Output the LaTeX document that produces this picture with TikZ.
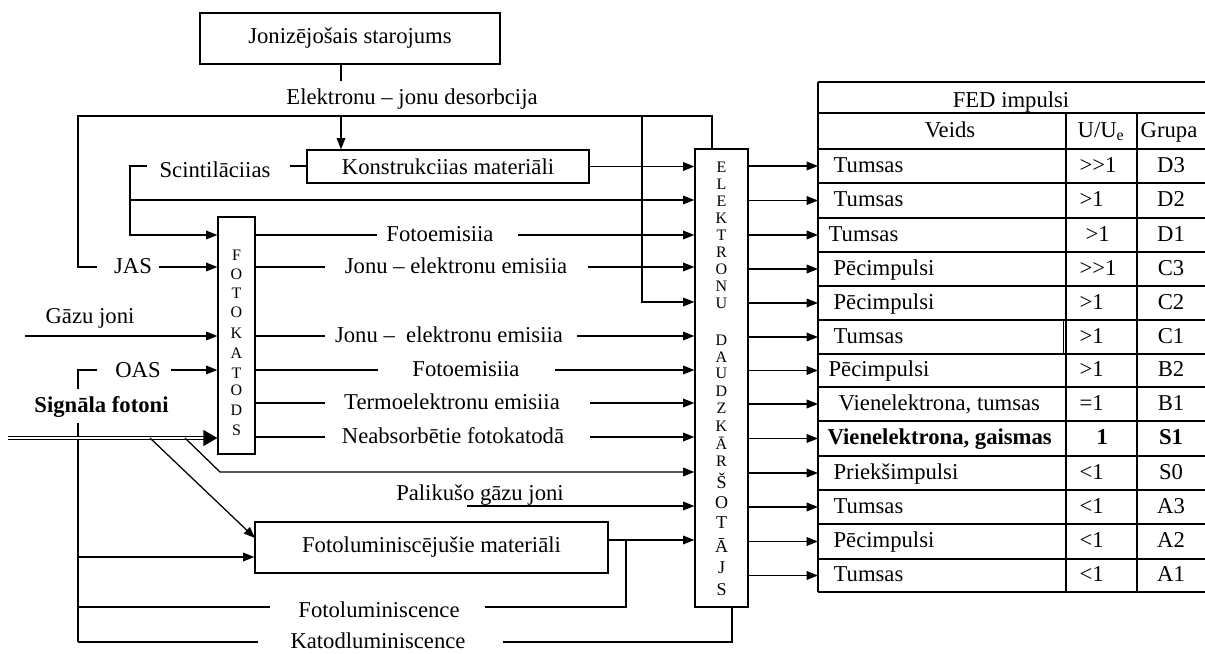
\documentclass[tikz,border=0pt]{standalone}
\usepackage{fontspec}
\setmainfont{Liberation Serif}
\usetikzlibrary{arrows.meta}
\newcommand\mainfs{\fontsize{17}{20}\selectfont}
\newcommand\smallfs{\fontsize{12}{14}\selectfont}
\newcommand\midfs{\fontsize{13.5}{15}\selectfont}
\newcommand\fedrow[7]{%
  \coordinate (r#1) at (818,#2);
  \draw[arr] (r#1 -| ed.east) -- (r#1);
  \node[lbl, anchor=west] (v#1) at (#3,#2) {#4};
  \node[lbl, anchor=west] (u#1) at (#5,#2) {#6};
  \node[lbl] (g#1) at (1171,#2) {#7};
}
\begin{document}
\begin{tikzpicture}[x=0.75pt,y=-0.75pt,
  line width=0.95pt,
  font=\mainfs,
  box/.style={draw, inner sep=0pt},
  lbl/.style={inner sep=0pt, text height=12pt, text depth=3pt},
  arr/.style={-{Triangle[length=8.5pt,width=6.5pt]}},
  ltr/.style={inner sep=0pt, anchor=base, font=\smallfs},
  ltrb/.style={inner sep=0pt, anchor=base, font=\midfs},
]
\useasboundingbox (0,0) rectangle (1205,653);
\fill[white] (0,0) rectangle (1205,653);

% boxes
\node[box, minimum width=225pt, minimum height=38.25pt] (ion) at (350,38.5) {Jonizējošais starojums};
\node[box, minimum width=211.5pt, minimum height=24.75pt] (kon) at (448,166.5) {Konstrukciias materiāli};
\node[box, minimum width=27.75pt, minimum height=177.75pt] (fk) at (236.5,335.5) {};
\node[box, minimum width=39.75pt, minimum height=343.5pt] (ed) at (721.5,378) {};
\node[box, minimum width=264.75pt, minimum height=38.25pt] (fl) at (431.5,547.5) {Fotoluminiscējušie materiāli};

% letters FOTOKATODS
\foreach \l/\y [count=\i] in {F/260,O/279,T/298,O/317,K/338,A/358,T/378,O/395,D/415,S/435}
  \node[ltr] (fkl\i) at (236.5,\y) {\l};
% letters ELEKTRONU DAUDZKARSOTAJS
\foreach \l/\y [count=\i] in {E/172,L/189,E/206,K/223,T/240,R/257,O/274,N/291,U/308,D/345,A/362,U/378,D/396,Z/413,K/431,Ā/449,R/466}
  \node[ltr] (edl\i) at (721.5,\y) {\l};
\foreach \l/\y [count=\i] in {Š/488,O/508,T/528,Ā/552,J/573,S/595}
  \node[ltrb] (edm\i) at (721.5,\y) {\l};

% top part
\coordinate (d1) at (341,81);
\draw (ion.south -| d1) -- (d1);
\node[lbl] (des) at (412,98.5) {Elektronu – jonu desorbcija};
\coordinate (bl) at (78,116);
\coordinate (br) at (712,116);
\coordinate (bm) at (642,116);
\coordinate (jasL) at (97,267);
\draw (jasL) -| (bl) -- (br) -- (br |- ed.north);
\draw[arr] (bl -| d1) -- (kon.north -| d1);
\draw[arr] (bm) |- (ed.west |- 0,302);
\draw[arr] (kon.east) -- (kon.east -| ed.west);

% scintillations
\node[lbl] (sci) at (215,171) {Scintilāciias};
\coordinate (sc1) at (147,166);
\coordinate (sc2) at (290,166);
\coordinate (sc3) at (130,235);
\coordinate (scv) at (130,200);
\draw (kon.west |- sc2) -- (sc2);
\draw[arr] (sc1) -| (sc3) -- (sc3 -| fk.west);
\draw[arr] (scv) -- (scv -| ed.west);

% JAS
\node[lbl] (jas) at (133,267) {JAS};
\draw[arr] ([xshift=4.5pt]jas.east) -- (jas.east -| fk.west);

% gas ions
\node[lbl] (gaz) at (90,317) {Gāzu joni};
\coordinate (gz) at (25,336);
\draw[arr] (gz) -- (gz -| fk.west);

% OAS
\node[lbl] (oas) at (138,371) {OAS};
\coordinate (oasL) at (97,370);
\coordinate (vb) at (78,642);
\draw (oasL) -| (vb);
\draw[arr] ([xshift=7pt]oas.east |- oasL) -- (oasL -| fk.west);

% signal photons
\node[lbl, fill=white, inner xsep=1pt, inner ysep=5pt, font=\mainfs\bfseries] (sig) at (101.5,406) {Signāla fotoni};
\coordinate (dl0) at (8,438);
\coordinate (dl1) at (204,438);
\draw[double, double distance=1.7pt, line width=0.75pt] (dl0) -- (dl1);
\draw[-{Triangle[length=10.5pt,width=12pt]}] (dl1) -- (dl1 -| fk.west);
\coordinate (dg1) at (150,438);
\coordinate (fl1) at (255,538);
\draw[arr] (dg1) -- (fl1);
\coordinate (dg2) at (185,438);
\coordinate (dg2b) at (220,472);
\draw[arr] (dg2) -- (dg2b) -- (dg2b -| ed.west);

% photoluminescent materials
\coordinate (fl2) at (78,557);
\draw[arr] (fl2) -- (fl2 -| fl.west);
\coordinate (flo) at (608,540);
\draw[arr] (flo) -- (flo -| ed.west);
\coordinate (flv) at (626,540);
\coordinate (flb) at (485,607);
\draw (flv) |- (flb);
\node[lbl] (flum) at (379,611) {Fotoluminiscence};
\coordinate (fll0) at (78,607);
\coordinate (fll1) at (270,607);
\draw (fll0) -- (fll1);

% cathodoluminescence
\node[lbl] (kat) at (378,642) {Katodluminiscence};
\coordinate (k0) at (258,642);
\draw (vb) -- (k0);
\coordinate (k1) at (503,642);
\coordinate (kb) at (732,642);
\draw (k1) -- (kb) -- (kb |- ed.south);

% residual gas ions
\node[lbl] (pal) at (480,494) {Palikušo gāzu joni};
\coordinate (pl) at (467,506);
\draw[arr] (pl) -- (pl -| ed.west);

% photocathode outputs
\foreach \y/\a/\c/\b/\t [count=\i] in {
  235/377/440/518/Fotoemisiia,
  267/325/456/588/Jonu – elektronu emisiia,
  336/325/449/577/Jonu –\ \ elektronu emisiia,
  370/378/466/555/Fotoemisiia,
  403/325/452/590/Termoelektronu emisiia,
  437/325/453/590/Neabsorbētie fotokatodā}
{
  \coordinate (pa\i) at (\a,\y);
  \coordinate (pb\i) at (\b,\y);
  \draw (fk.east |- pa\i) -- (pa\i);
  \node[lbl] (ft\i) at (\c,\y) {\t};
  \draw[arr] (pb\i) -- (pb\i -| ed.west);
}

% table
\foreach \y in {82,113,149,183,218,252,286,320,354,387,421,456,490,524,559,592}
  \draw (818,\y) -- (1205,\y);
\draw (818,82) -- (818,592);
\draw (1066,113) -- (1066,592);
\draw (1137,113) -- (1137,592);
\draw[line width=0.6pt] (1063,320) -- (1063,354);
\node[lbl] (fed) at (1011,101) {FED impulsi};
\node[lbl] (veids) at (950,131) {Veids};
\node[lbl] (ue) at (1101,131) {U/U\textsubscript{e}};
\node[lbl] (grupa) at (1169,131) {Grupa};

\fedrow{1}{166}{833}{Tumsas}{1079}{>{}>1}{D3}
\fedrow{2}{200.5}{833}{Tumsas}{1079}{>1}{D2}
\fedrow{3}{235}{828}{Tumsas}{1085}{>1}{D1}
\fedrow{4}{269}{833}{Pēcimpulsi}{1079}{>{}>1}{C3}
\fedrow{5}{303}{833}{Pēcimpulsi}{1079}{>1}{C2}
\fedrow{6}{337}{833}{Tumsas}{1079}{>1}{C1}
\fedrow{7}{370.5}{828}{Pēcimpulsi}{1079}{>1}{B2}
\fedrow{8}{404}{838}{Vienelektrona, tumsas}{1079}{=1}{B1}
\fedrow{9}{438.5}{827}{\textbf{Vienelektrona, gaismas}}{1096}{\textbf{1}}{\textbf{S1}}
\fedrow{10}{473}{833}{Priekšimpulsi}{1079}{<1}{S0}
\fedrow{11}{507}{833}{Tumsas}{1079}{<1}{A3}
\fedrow{12}{541.5}{833}{Pēcimpulsi}{1079}{<1}{A2}
\fedrow{13}{575.5}{833}{Tumsas}{1079}{<1}{A1}
\end{tikzpicture}
\end{document}
